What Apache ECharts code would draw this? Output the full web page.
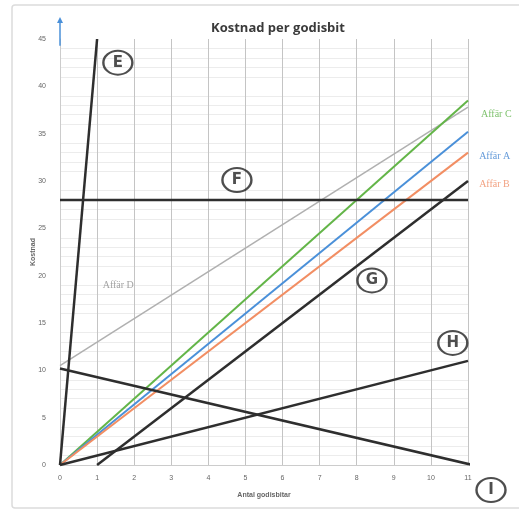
<!DOCTYPE html>
<html><head><meta charset="utf-8">
<script src="https://cdn.jsdelivr.net/npm/echarts@6/dist/echarts.min.js"></script>
<style>html,body{margin:0;padding:0;background:#fff}#c{width:519px;height:510px}</style>
</head><body><div id="c"></div>
<script>
const titleText = 'Kostnad per godisbit';
const xName = 'Antal godisbitar';
const yName = 'Kostnad';
const xTicks = [0,1,2,3,4,5,6,7,8,9,10,11];
const yTicks = [0,5,10,15,20,25,30,35,40,45];

// store lines [x, y]
const affarC = [[0,0],[11,38.5]];
const affarA = [[0,0],[11,35.2]];
const affarB = [[0,0],[11,33]];
const affarD = [[0,10.5],[11,37.8]];
// hand-drawn lines
const lineE = [[0,0],[1,45]];
const lineF = [[0,28],[11,28]];
const lineG = [[1,0],[11,30]];
const lineH = [[0,0],[11,11]];
const lineI = [[0,10.2],[11.45,-0.3]];

const storeLabels = [
  {name:'Affär C', x:11.35, y:37.0, color:'#5cb247'},
  {name:'Affär A', x:11.3, y:32.6, color:'#3f82d0'},
  {name:'Affär B', x:11.3, y:29.6, color:'#ef8a62'},
  {name:'Affär D', x:1.15, y:19.0, color:'#8c8c8c'}
];
const letters = [
  {t:'E', x:1.56, y:42.5},
  {t:'F', x:4.77, y:30.1},
  {t:'G', x:8.41, y:19.5},
  {t:'H', x:10.59, y:12.9},
  {t:'I', x:11.62, y:-2.64}
];

const chart = echarts.init(document.getElementById('c'), null, {renderer:'canvas'});
function ln(data, color, width){
  return {type:'line', data, showSymbol:false, symbol:'none', silent:true, clip:false,
    lineStyle:{color, width}, z:3};
}
chart.setOption({
  animation:false,
  backgroundColor:'#fff',
  graphic:[{type:'rect', shape:{x:12,y:5,width:520,height:503,r:3},
    style:{fill:'none', stroke:'#dcdcdc', lineWidth:1.5}, z:-1}],
  title:{text:titleText, left:273, top:17, textAlign:'center',
    textStyle:{fontSize:13, fontWeight:'bold', color:'#3a3a3a', fontFamily:'Open Sans'}},
  grid:{left:60, right:51, top:39, bottom:45},
  xAxis:{type:'value', min:0, max:11, interval:1, name:xName, nameLocation:'middle', nameGap:27,
    nameMoveOverlap:false,
    nameTextStyle:{fontSize:7, color:'#666', fontWeight:'bold'},
    axisLine:{show:true, lineStyle:{color:'#ccc'}}, axisTick:{show:false},
    axisLabel:{fontSize:7, color:'#666', margin:10, formatter:v=>xTicks.includes(v)?String(v):''},
    splitLine:{show:true, lineStyle:{color:'#c4c4c4', width:1}}},
  yAxis:{type:'value', min:0, max:45, interval:5, name:yName, nameLocation:'middle', nameGap:23,
    nameMoveOverlap:false,
    nameTextStyle:{fontSize:7, color:'#666', fontWeight:'bold'},
    axisLine:{show:true, lineStyle:{color:'#ccc'}}, axisTick:{show:false},
    axisLabel:{fontSize:7, color:'#666', margin:14, formatter:v=>yTicks.includes(v)?String(v):''},
    splitLine:{show:false},
    minorTick:{show:false, splitNumber:5},
    minorSplitLine:{show:true, lineStyle:{color:'#ececec', width:1}}},
  series:[
    ln(affarD, '#b0b0b0', 1.5),
    ln(affarC, '#63b548', 2),
    ln(affarA, '#4a90d9', 2),
    ln(affarB, '#f28e63', 2),
    ln(lineE, '#2e2e2e', 2.5),
    ln(lineF, '#2e2e2e', 2.5),
    ln(lineG, '#2e2e2e', 2.5),
    ln(lineH, '#2e2e2e', 2.5),
    ln(lineI, '#2e2e2e', 2.5),
    {type:'line', silent:true, clip:false, z:4,
     data:[{value:[0,44.3], symbol:'none'},{value:[0,47], symbol:'triangle', symbolSize:[6,6]}],
     showSymbol:true, lineStyle:{color:'#4a90d9', width:1.5}, itemStyle:{color:'#4a90d9'}},
    {type:'scatter', silent:true, clip:false, z:5, symbolSize:0,
     data:storeLabels.map(s=>({value:[s.x,s.y], label:{show:true, formatter:s.name, position:'right', distance:0,
       color:s.color, fontSize:10, fontFamily:'Liberation Serif'}}))},
    {type:'scatter', silent:true, clip:false, z:6, symbol:'circle', symbolSize:[29,24],
     itemStyle:{color:'rgba(255,255,255,0)', borderColor:'#222', borderWidth:2.2},
     label:{show:true, position:'inside', color:'#222', fontSize:15, fontWeight:'bold', fontFamily:'DejaVu Sans', formatter:p=>p.data.t},
     data:letters.map(l=>({value:[l.x,l.y], t:l.t}))}
  ]
});
</script></body></html>
